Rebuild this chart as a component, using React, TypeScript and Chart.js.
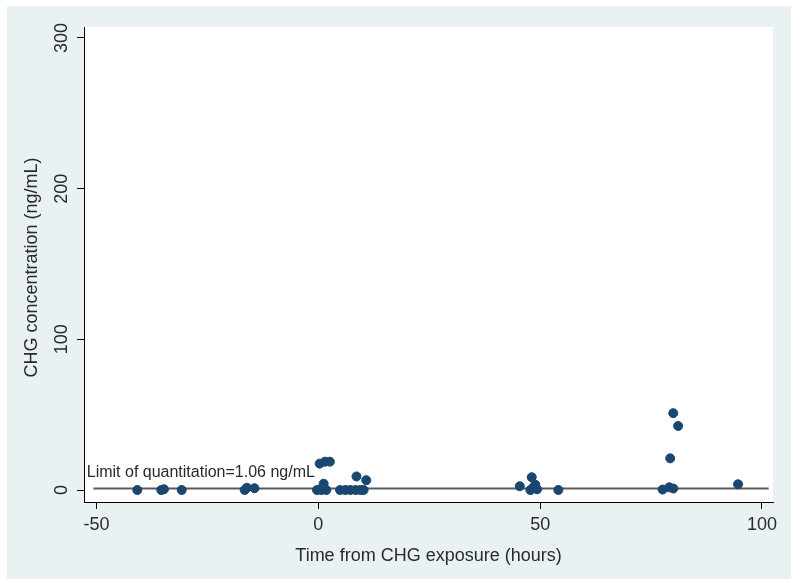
import React, { useEffect, useRef } from "react";
import { Chart, registerables } from "chart.js";

Chart.register(...registerables);

// ---- data ----
const timeHours = [
  -40.8, -35.4, -34.8, -30.8, -16.6, -16.1, -14.4,
  0.3, 1.5, 2.6, -0.3, 0.7, 1.8, 1.2, 0.9,
  4.9, 6.1, 7.2, 8.4, 9.5, 10.2, 8.6, 10.8,
  45.4, 48.1, 47.8, 48.4, 48.9, 49.3, 54.1,
  80.0, 81.1, 79.3, 77.6, 79.1, 80.0, 94.6,
];
const concentration = [
  0, 0, 0.5, 0, 0, 1.5, 1.2,
  17.5, 18.8, 18.8, 0, 0, 0, 4.2, 1.5,
  0, 0, 0, 0, 0, 0, 9.0, 6.5,
  2.5, 8.5, 0, 1.5, 3.5, 0.5, 0,
  51, 42.5, 21, 0.3, 1.8, 1.0, 3.8,
];
const xTicks = [-50, 0, 50, 100];
const yTicks = [0, 100, 200, 300];
const loqValue = 1.06;
const loqRange = [-50.7, 101.5];
const loqLabel = "Limit of quantitation=1.06 ng/mL";
const xTitle = "Time from CHG exposure (hours)";
const yTitle = "CHG concentration (ng/mL)";

const FONT = '"Liberation Sans", Arial, sans-serif';
const NAVY = "#1a476f";
const TEXT = "#2a2a2a";

const bgPlugin = {
  id: "stataBg",
  beforeDraw(chart: any) {
    const { ctx, chartArea } = chart;
    ctx.save();
    ctx.fillStyle = "#ffffff";
    ctx.fillRect(0, 0, chart.width, chart.height);
    ctx.fillStyle = "#e9f1f3";
    ctx.fillRect(7, 6, 784, 573);
    ctx.fillStyle = "#ffffff";
    ctx.fillRect(chartArea.left, chartArea.top, chartArea.right - chartArea.left, chartArea.bottom - chartArea.top);
    ctx.restore();
  },
};

const textPlugin = {
  id: "stataText",
  afterDraw(chart: any) {
    const { ctx, chartArea } = chart;
    const xs = chart.scales.x;
    const ys = chart.scales.y;
    ctx.save();
    ctx.fillStyle = TEXT;
    // y tick labels (rotated)
    ctx.font = `18px ${FONT}`;
    ctx.textAlign = "center";
    ctx.textBaseline = "alphabetic";
    for (const v of yTicks) {
      const py = ys.getPixelForValue(v);
      ctx.save();
      ctx.translate(67, py);
      ctx.rotate(-Math.PI / 2);
      ctx.fillText(String(v), 0, 0);
      ctx.restore();
    }
    // y title
    ctx.save();
    ctx.translate(37, (chartArea.top + chartArea.bottom) / 2 + 3);
    ctx.rotate(-Math.PI / 2);
    ctx.fillText(yTitle, 0, 0);
    ctx.restore();
    // x title
    ctx.fillText(xTitle, (chartArea.left + chartArea.right) / 2, 561);
    // LOQ label
    ctx.font = `16px ${FONT}`;
    ctx.textAlign = "left";
    ctx.fillText(loqLabel, xs.getPixelForValue(-52.2), ys.getPixelForValue(8.6));
    ctx.restore();
  },
};

export default function App() {
  const ref = useRef<HTMLCanvasElement | null>(null);
  useEffect(() => {
    if (!ref.current) return;
    const chart = new Chart(ref.current, {
      type: "scatter",
      data: {
        datasets: [
          {
            type: "scatter",
            data: timeHours.map((t, i) => ({ x: t, y: concentration[i] })),
            backgroundColor: NAVY,
            borderColor: NAVY,
            borderWidth: 1,
            pointRadius: 4.5,
          },
          {
            type: "line",
            data: loqRange.map((t) => ({ x: t, y: loqValue })),
            borderColor: "#5a5a5a",
            borderWidth: 2,
            pointRadius: 0,
            fill: false,
          },
        ],
      } as any,
      options: {
        animation: false,
        responsive: false,
        devicePixelRatio: 1,
        layout: { padding: { left: 0, top: 27, right: 27, bottom: 0 } },
        plugins: { legend: { display: false }, tooltip: { enabled: false } },
        scales: {
          x: {
            type: "linear",
            min: -52.82,
            max: 102.48,
            afterBuildTicks: (s: any) => {
              s.ticks = xTicks.map((v) => ({ value: v }));
            },
            afterFit: (s: any) => {
              s.height = 84;
            },
            grid: { drawOnChartArea: false, drawTicks: true, tickLength: 7, color: "#000", lineWidth: 1 },
            border: { color: "#000", width: 1 },
            ticks: {
              font: { family: FONT, size: 18 },
              color: TEXT,
              padding: 5,
              maxRotation: 0,
              autoSkip: false,
            },
          },
          y: {
            type: "linear",
            min: -7.96,
            max: 307.3,
            afterBuildTicks: (s: any) => {
              s.ticks = yTicks.map((v) => ({ value: v }));
            },
            afterFit: (s: any) => {
              s.width = 84;
            },
            grid: { drawOnChartArea: false, drawTicks: true, tickLength: 7, color: "#000", lineWidth: 1 },
            border: { color: "#000", width: 1 },
            ticks: { display: false },
          },
        },
      } as any,
      plugins: [bgPlugin, textPlugin],
    });
    return () => chart.destroy();
  }, []);
  return (
    <div style={{ position: "absolute", left: 0, top: 0, width: 800, height: 586 }}>
      <canvas ref={ref} width={800} height={586} style={{ display: "block" }} />
    </div>
  );
}
